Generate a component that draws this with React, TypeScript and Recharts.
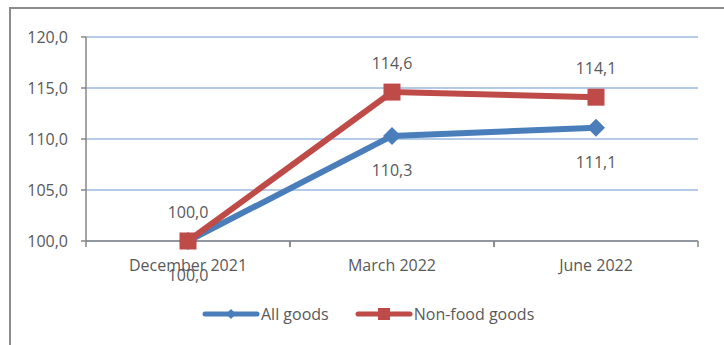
import React from 'react'
import { LineChart, Line, XAxis, YAxis, CartesianGrid, LabelList } from 'recharts'

const categories = ['December 2021', 'March 2022', 'June 2022']
const allGoods = [100.0, 110.3, 111.1]
const nonFood = [100.0, 114.6, 114.1]
const yTicks = [100, 105, 110, 115, 120]

const BLUE = '#4A7EBB'
const RED = '#BE4B48'
const TEXT = '#595959'
const AXIS = '#868686'
const FONT = '"Open Sans", sans-serif'

const data = categories.map((c, i) => ({ cat: c, all: allGoods[i], nonfood: nonFood[i] }))

const fmt = (v: any) => Number(v).toFixed(1).replace('.', ',')

function Diamond({ cx, cy, r = 9, fill = BLUE }: any) {
  if (cx == null || cy == null) return null
  return <polygon points={`${cx},${cy - r} ${cx + r},${cy} ${cx},${cy + r} ${cx - r},${cy}`} fill={fill} />
}

function Square({ cx, cy, s = 17, fill = RED }: any) {
  if (cx == null || cy == null) return null
  return <rect x={cx - s / 2} y={cy - s / 2} width={s} height={s} fill={fill} />
}

// tick marks sit on the category boundaries, label in the middle
function XTick({ x, y, width, payload }: any) {
  const half = width / categories.length / 2
  return (
    <g>
      <line x1={x - half} y1={y} x2={x - half} y2={y + 6} stroke={AXIS} strokeWidth={1.5} />
      <line x1={x + half} y1={y} x2={x + half} y2={y + 6} stroke={AXIS} strokeWidth={1.5} />
      <text x={x} y={y + 24} textAnchor="middle" dominantBaseline="central"
        fill={TEXT} fontSize={16} fontFamily={FONT}>{payload.value}</text>
    </g>
  )
}

function LegendItem({ label, color, marker }: { label: string; color: string; marker: 'diamond' | 'square' }) {
  return (
    <span style={{ display: 'flex', alignItems: 'center' }}>
      <svg width={58} height={20}>
        <line x1={3} y1={10} x2={55} y2={10} stroke={color} strokeWidth={5} strokeLinecap="round" />
        {marker === 'diamond'
          ? <Diamond cx={29} cy={10} r={5} fill={color} />
          : <Square cx={29} cy={10} s={12} fill={color} />}
      </svg>
      <span style={{ color: TEXT, fontSize: 16, fontFamily: FONT, marginLeft: 1 }}>{label}</span>
    </span>
  )
}

export default function App() {
  return (
    <div style={{ position: 'absolute', left: 0, top: 0, width: 724, height: 345, overflow: 'hidden', background: '#fff' }}>
      <div style={{ position: 'absolute', left: 9, top: 7, width: 800, height: 400, border: '2px solid #8c8c8c' }} />
      <div style={{ position: 'absolute', left: 0, top: 0 }}>
        <LineChart width={724} height={345} data={data} margin={{ top: 37, right: 26, left: 0, bottom: 74 }}>
          <CartesianGrid vertical={false} stroke="#9DB9E0" strokeWidth={1.5} />
          <XAxis
            dataKey="cat"
            padding={{ left: 102, right: 102 }}
            axisLine={{ stroke: AXIS, strokeWidth: 1.5 }}
            tickLine={false}
            tickSize={0}
            tickMargin={0}
            height={30}
            interval={0}
            tick={<XTick />}
          />
          <YAxis
            domain={[100, 120]}
            ticks={yTicks}
            width={86}
            axisLine={{ stroke: AXIS, strokeWidth: 1.5 }}
            tickLine={{ stroke: AXIS, strokeWidth: 1.5 }}
            tickSize={5}
            tickMargin={13}
            tickFormatter={fmt}
            tick={{ fill: TEXT, fontSize: 16, fontFamily: FONT }}
          />
          <Line
            dataKey="all"
            stroke={BLUE}
            strokeWidth={6}
            dot={(p: any) => <Diamond key={`d-${p.index}`} cx={p.cx} cy={p.cy} />}
            activeDot={false}
            isAnimationActive={false}
          >
            <LabelList dataKey="all" position="bottom" offset={29} formatter={fmt}
              fill={TEXT} fontSize={16} fontFamily={FONT} />
          </Line>
          <Line
            dataKey="nonfood"
            stroke={RED}
            strokeWidth={6}
            dot={(p: any) => <Square key={`s-${p.index}`} cx={p.cx} cy={p.cy} />}
            activeDot={false}
            isAnimationActive={false}
          >
            <LabelList dataKey="nonfood" position="top" offset={23} formatter={fmt}
              fill={TEXT} fontSize={16} fontFamily={FONT} />
          </Line>
        </LineChart>
      </div>
      <div style={{ position: 'absolute', left: 202, top: 303, display: 'flex', gap: 26 }}>
        <LegendItem label="All goods" color={BLUE} marker="diamond" />
        <LegendItem label="Non-food goods" color={RED} marker="square" />
      </div>
    </div>
  )
}
